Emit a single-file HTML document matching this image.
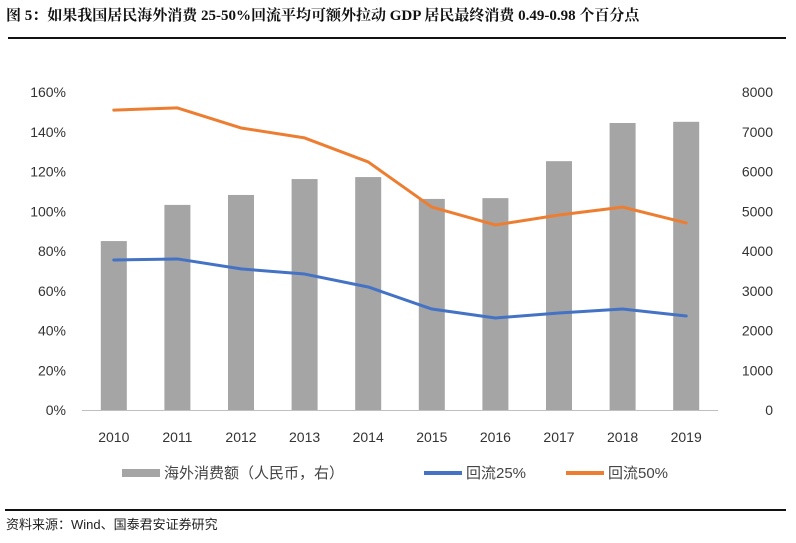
<!DOCTYPE html>
<html><head><meta charset="utf-8">
<style>
body{margin:0;background:#fff;width:796px;height:538px;overflow:hidden;font-family:"Liberation Sans","Noto Sans CJK SC",sans-serif;}
svg text{font-family:"Liberation Sans","Noto Sans CJK SC",sans-serif;}
</style></head>
<body>
<svg id="c" width="796" height="538" xmlns="http://www.w3.org/2000/svg">
<text x="6" y="20" font-size="15" font-weight="bold" fill="#111" style="font-family:'Liberation Serif','Noto Serif CJK SC',serif">图 5：如果我国居民海外消费 25-50%回流平均可额外拉动 GDP 居民最终消费 0.49-0.98 个百分点</text>
<rect x="8" y="37" width="778" height="2" fill="#111"/>
<rect x="5" y="509" width="781" height="2" fill="#111"/>
<text x="6" y="529" font-size="13" fill="#222">资料来源：Wind、国泰君安证券研究</text>
<g id="plot"></g>
<g>
<rect x="122" y="469" width="38" height="8" fill="#a5a5a5"/>
<text x="164" y="478" font-size="15" fill="#444">海外消费额（人民币，右）</text>
<rect x="424" y="471" width="38" height="4" fill="#4472c4"/>
<text x="466" y="478" font-size="15" fill="#444">回流25%</text>
<rect x="566" y="471" width="38" height="4" fill="#ed7d31"/>
<text x="608" y="478" font-size="15" fill="#444">回流50%</text>
</g>
</svg>
<script>
const years=["2010","2011","2012","2013","2014","2015","2016","2017","2018","2019"];
const spend=[4250,5160,5410,5810,5860,5310,5330,6260,7220,7250];
const flow25=[75.5,76,71,68.4,61.9,50.8,46.3,48.8,50.8,47.3];
const flow50=[150.9,152,141.9,136.9,124.8,102.1,93.1,98.1,102.1,94.1];
const leftTicks=[0,20,40,60,80,100,120,140,160];
const rightTicks=[0,1000,2000,3000,4000,5000,6000,7000,8000];

const NS="http://www.w3.org/2000/svg";
const g=document.getElementById('plot');
const X0=82,X1=718,Y0=410,Y1=92;
const step=(X1-X0)/years.length;
const xc=i=>X0+step*(i+0.5);
const yl=v=>Y0-(v/160)*(Y0-Y1);
const yr=v=>Y0-(v/8000)*(Y0-Y1);
function mk(t,a){const e=document.createElementNS(NS,t);for(const k in a)e.setAttribute(k,a[k]);g.appendChild(e);return e;}

leftTicks.forEach((v,i)=>{
 const t=mk('text',{x:66,y:yl(v)+5,'font-size':14,fill:'#333','text-anchor':'end'});
 t.textContent=v+'%';
 
 
});
rightTicks.forEach(v=>{
 const t=mk('text',{x:773,y:yr(v)+5,'font-size':14,fill:'#333','text-anchor':'end'});
 t.textContent=v;
 
 
});
spend.forEach((v,i)=>{
 const r=mk('rect',{x:xc(i)-13,y:yr(v),width:26,height:Y0-yr(v),fill:'#a5a5a5'});
 
 
});
const ax=mk('line',{x1:X0,x2:X1,y1:Y0+0.5,y2:Y0+0.5,stroke:'#bfbfbf','stroke-width':1});


years.forEach((y,i)=>{
 const t=mk('text',{x:xc(i),y:442,'font-size':14,fill:'#333','text-anchor':'middle'});
 t.textContent=y;
 
 
});
function line(vals,color,name){
 const p=mk('polyline',{points:vals.map((v,i)=>xc(i)+','+yl(v)).join(' '),fill:'none',stroke:color,'stroke-width':3,'stroke-linejoin':'round','stroke-linecap':'round'});
 
 
}
line(flow25,'#4472c4','line-flow-25');
line(flow50,'#ed7d31','line-flow-50');
</script>
</body></html>
